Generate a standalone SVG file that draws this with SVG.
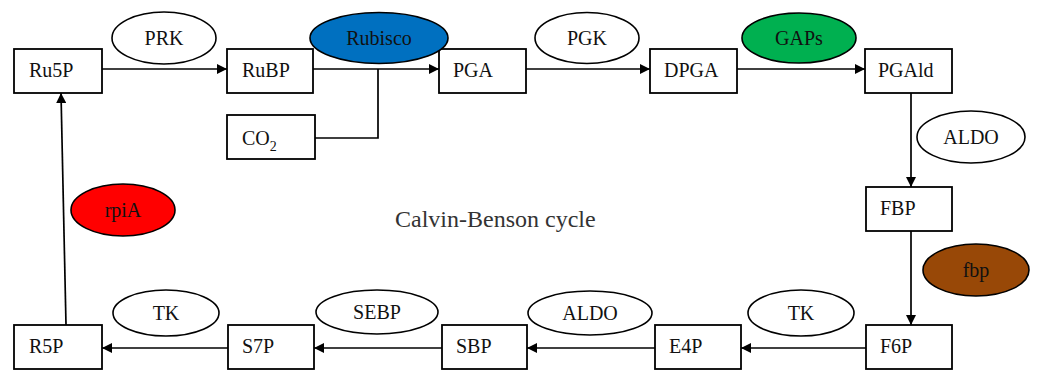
<svg xmlns="http://www.w3.org/2000/svg" width="1058" height="370" viewBox="0 0 1058 370">
<defs>
<marker id="ah" viewBox="0 0 10 10" refX="10" refY="5" markerWidth="13" markerHeight="10" markerUnits="userSpaceOnUse" orient="auto">
<path d="M0,0 L10,5 L0,10 z" fill="#000"/>
</marker>
<style>
.box{fill:#fff;stroke:#000;stroke-width:1.8}
.enz{stroke:#000;stroke-width:1.6}
.t{font-family:"Liberation Serif","Times New Roman",serif;font-size:20px;fill:#111}
.c{text-anchor:middle}
.ln{fill:none;stroke:#000;stroke-width:1.7}
.ar{marker-end:url(#ah)}
</style>
</defs>
<rect width="1058" height="370" fill="#fff"/>
<g id="connectors">
<line class="ln ar" x1="102" y1="69" x2="227" y2="69"/>
<line class="ln ar" x1="313" y1="69" x2="439" y2="69"/>
<polyline class="ln" points="315,138 378,138 378,69"/>
<line class="ln ar" x1="526" y1="69" x2="650" y2="69"/>
<line class="ln ar" x1="737" y1="69" x2="865" y2="69"/>
<line class="ln ar" x1="911" y1="92" x2="911" y2="187"/>
<line class="ln ar" x1="911" y1="231" x2="911" y2="325"/>
<line class="ln ar" x1="866" y1="348" x2="741" y2="348"/>
<line class="ln ar" x1="655" y1="348" x2="527" y2="348"/>
<line class="ln ar" x1="442" y1="348" x2="314" y2="348"/>
<line class="ln ar" x1="228" y1="348" x2="102" y2="348"/>
<line class="ln ar" x1="66" y1="325" x2="61" y2="93"/>
</g>
<g id="Ru5P"><rect class="box" x="14" y="49" width="88" height="44"/><text class="t" x="29" y="77">Ru5P</text></g>
<g id="RuBP"><rect class="box" x="227" y="49" width="86" height="44"/><text class="t" x="242" y="77">RuBP</text></g>
<g id="PGA"><rect class="box" x="439" y="49" width="87" height="44"/><text class="t" x="453" y="77">PGA</text></g>
<g id="DPGA"><rect class="box" x="650" y="49" width="87" height="44"/><text class="t" x="664" y="77">DPGA</text></g>
<g id="PGAld"><rect class="box" x="865" y="49" width="87" height="44"/><text class="t" x="878" y="77">PGAld</text></g>
<g id="CO2"><rect class="box" x="227" y="115" width="88" height="44"/><text class="t" x="242" y="145">CO<tspan font-size="14" dy="6">2</tspan></text></g>
<g id="FBP"><rect class="box" x="866" y="187" width="86" height="44"/><text class="t" x="880" y="215">FBP</text></g>
<g id="F6P"><rect class="box" x="866" y="325" width="86" height="44"/><text class="t" x="880" y="353">F6P</text></g>
<g id="E4P"><rect class="box" x="655" y="325" width="86" height="44"/><text class="t" x="669" y="353">E4P</text></g>
<g id="SBP"><rect class="box" x="442" y="325" width="85" height="44"/><text class="t" x="456" y="353">SBP</text></g>
<g id="S7P"><rect class="box" x="228" y="325" width="86" height="44"/><text class="t" x="242" y="353">S7P</text></g>
<g id="R5P"><rect class="box" x="14" y="325" width="88" height="44"/><text class="t" x="29" y="353">R5P</text></g>
<g id="PRK"><ellipse class="enz" cx="164" cy="38" rx="52" ry="26" fill="#fff"/><text class="t c" x="164" y="45">PRK</text></g>
<g id="Rubisco"><ellipse class="enz" cx="379" cy="38" rx="69" ry="25.5" fill="#0070c0"/><text class="t c" x="379" y="45">Rubisco</text></g>
<g id="PGK"><ellipse class="enz" cx="587" cy="38" rx="52" ry="25.5" fill="#fff"/><text class="t c" x="587" y="45">PGK</text></g>
<g id="GAPs"><ellipse class="enz" cx="799" cy="38" rx="57" ry="25" fill="#00b050"/><text class="t c" x="799" y="45">GAPs</text></g>
<g id="ALDO1"><ellipse class="enz" cx="971" cy="137" rx="54" ry="26" fill="#fff"/><text class="t c" x="971" y="144">ALDO</text></g>
<g id="fbp"><ellipse class="enz" cx="976" cy="270" rx="53" ry="26" fill="#984807"/><text class="t c" x="976" y="277">fbp</text></g>
<g id="TK1"><ellipse class="enz" cx="801" cy="313" rx="53" ry="23" fill="#fff"/><text class="t c" x="801" y="320">TK</text></g>
<g id="ALDO2"><ellipse class="enz" cx="590" cy="313" rx="62" ry="22" fill="#fff"/><text class="t c" x="590" y="320">ALDO</text></g>
<g id="SEBP"><ellipse class="enz" cx="377" cy="312" rx="61" ry="22" fill="#fff"/><text class="t c" x="377" y="319">SEBP</text></g>
<g id="TK2"><ellipse class="enz" cx="166" cy="313" rx="53" ry="23" fill="#fff"/><text class="t c" x="166" y="320">TK</text></g>
<g id="rpiA"><ellipse class="enz" cx="123" cy="210" rx="52" ry="26" fill="#ff0000"/><text class="t c" x="123" y="217">rpiA</text></g>
<text class="t" x="395" y="227" style="font-size:24px;fill:#333">Calvin-Benson cycle</text>
</svg>
